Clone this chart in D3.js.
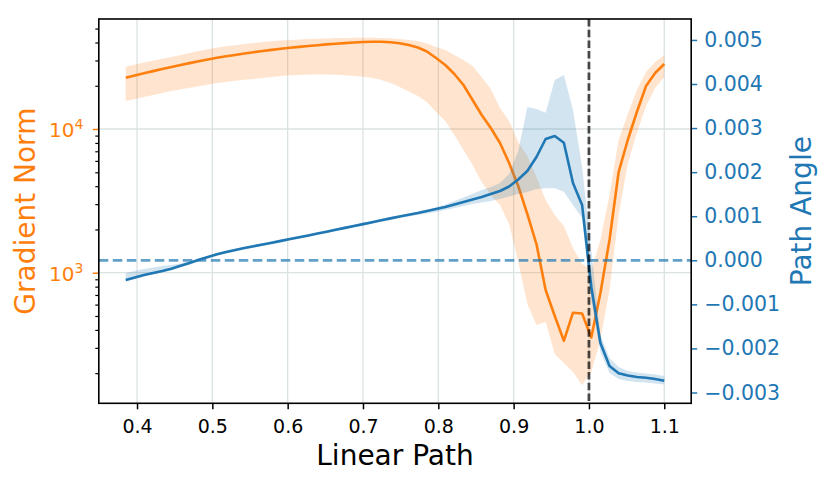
<!DOCTYPE html>
<html>
<head>
<meta charset="utf-8">
<script src="https://cdn.jsdelivr.net/npm/d3@7"></script>
<style>
  body { margin: 0; background: #fff; }
  svg text { font-family: "DejaVu Sans", sans-serif; }
</style>
</head>
<body>
<div id="chart"></div>
<script>
// position along the linear path (x)
var xPath = [
  0.385, 0.3971, 0.4092, 0.4214, 0.4335, 0.4456, 0.4577, 0.4698, 0.4819, 0.4941,
  0.5062, 0.5183, 0.5304, 0.5425, 0.5547, 0.5668, 0.5789, 0.5910, 0.6031, 0.6153,
  0.6274, 0.6395, 0.6516, 0.6637, 0.6758, 0.6880, 0.7001, 0.7122, 0.7243, 0.7364,
  0.7486, 0.7607, 0.7728, 0.7849, 0.7970, 0.8092, 0.8213, 0.8334, 0.8455, 0.8576,
  0.8697, 0.8819, 0.8940, 0.9061, 0.9182, 0.9303, 0.9425, 0.9546, 0.9667, 0.9788,
  0.9909, 1.0031, 1.0152, 1.0273, 1.0394, 1.0515, 1.0636, 1.0758, 1.0879, 1.1000
];

// gradient norm (left, log axis): mean and shaded band
var gradMean = [
  22750, 23600, 24450, 25280, 26150, 27010, 27890, 28750, 29590, 30450,
  31290, 32050, 32780, 33530, 34230, 34900, 35520, 36150, 36740, 37270,
  37810, 38300, 38790, 39230, 39610, 39990, 40310, 40510, 40440, 40120,
  39480, 38420, 36910, 34620, 31190, 27890, 24140, 20240, 15920, 12510,
  10160, 7990, 5800, 4012, 2562, 1584, 758, 500, 336, 527,
  520, 354, 722, 1689, 5020, 8384, 13130, 19920, 24530, 28340
];
var gradLow = [
  15660, 16170, 16700, 17250, 17810, 18390, 18870, 19360, 19860, 20370,
  20900, 21270, 21650, 22000, 22320, 22640, 23010, 23380, 23640, 23800,
  23910, 23950, 23950, 23840, 23640, 23380, 23080, 22640, 21930, 20900,
  19600, 18240, 16970, 15420, 13130, 11370, 9083, 7143, 5616, 4277,
  3473, 2959, 2183, 1187, 606, 433, 454, 272, 235, 204,
  165, 204, 340, 758, 2521, 5707, 9380, 14460, 19290, 23010
];
var gradHigh = [
  27130, 28070, 28980, 29880, 30800, 31700, 32730, 33800, 34840, 35860,
  36910, 37620, 38350, 39030, 39660, 40300, 40830, 41300, 41630, 41960,
  42300, 42500, 42710, 42920, 43050, 43120, 43190, 43120, 42980, 42780,
  42300, 41630, 40960, 39360, 37200, 35480, 32730, 30220, 27440, 23010,
  18980, 14000, 11370, 8120, 6486, 4634, 3206, 2521, 2113, 1485,
  1149, 1044, 1689, 3473, 8384, 12720, 18680, 24930, 29260, 32730
];

// path angle (right axis): mean and shaded band
var angleMean = [
  -0.000447, -0.000390, -0.000334, -0.000288, -0.000243, -0.000191, -0.000125, -0.000059, 0.000010, 0.000075,
  0.000135, 0.000186, 0.000234, 0.000277, 0.000318, 0.000359, 0.000399, 0.000440, 0.000481, 0.000522,
  0.000563, 0.000606, 0.000649, 0.000692, 0.000735, 0.000778, 0.000821, 0.000865, 0.000908, 0.000951,
  0.000994, 0.001032, 0.001073, 0.001119, 0.001164, 0.001209, 0.001266, 0.001323, 0.001380, 0.001436,
  0.001504, 0.001572, 0.001675, 0.001833, 0.002026, 0.002344, 0.002752, 0.002821, 0.002668, 0.001754,
  0.001255, -0.000606, -0.001877, -0.002398, -0.002564, -0.002614, -0.002648, -0.002664, -0.002693, -0.002732
];
var angleLow = [
  -0.000481, -0.000424, -0.000368, -0.000322, -0.000277, -0.000225, -0.000159, -0.000093, -0.000024, 0.000041,
  0.000101, 0.000152, 0.000200, 0.000243, 0.000284, 0.000325, 0.000365, 0.000406, 0.000447, 0.000488,
  0.000529, 0.000572, 0.000615, 0.000658, 0.000701, 0.000744, 0.000787, 0.000831, 0.000874, 0.000917,
  0.000960, 0.000994, 0.001028, 0.001062, 0.001096, 0.001141, 0.001187, 0.001232, 0.001278, 0.001312,
  0.001346, 0.001391, 0.001448, 0.001504, 0.001550, 0.001618, 0.001634, 0.001634, 0.001557, 0.001255,
  0.000960, -0.000901, -0.002081, -0.002557, -0.002694, -0.002739, -0.002762, -0.002773, -0.002796, -0.002818
];
var angleHigh = [
  -0.000288, -0.000243, -0.000197, -0.000163, -0.000129, -0.000107, -0.000073, -0.000027, 0.000032, 0.000098,
  0.000158, 0.000213, 0.000261, 0.000304, 0.000345, 0.000386, 0.000426, 0.000467, 0.000508, 0.000549,
  0.000590, 0.000633, 0.000676, 0.000719, 0.000762, 0.000805, 0.000848, 0.000892, 0.000935, 0.000978,
  0.001021, 0.001059, 0.001100, 0.001146, 0.001198, 0.001266, 0.001346, 0.001425, 0.001504, 0.001595,
  0.001663, 0.001754, 0.001958, 0.002480, 0.003478, 0.003433, 0.003349, 0.004091, 0.004204, 0.003410,
  0.002117, 0.000234, -0.001695, -0.002217, -0.002422, -0.002513, -0.002547, -0.002570, -0.002592, -0.002626
];

var xTicks = [0.4, 0.5, 0.6, 0.7, 0.8, 0.9, 1.0, 1.1];
var normTicks = [1000, 10000];
var normMinorTicks = [200, 300, 400, 500, 600, 700, 800, 900,
                      2000, 3000, 4000, 5000, 6000, 7000, 8000, 9000,
                      20000, 30000, 40000, 50000];
var angleTicks = [-0.003, -0.002, -0.001, 0, 0.001, 0.002, 0.003, 0.004, 0.005];
var minimumAt = 1.0;

var orange = "#ff7f0e";
var blue = "#1f77b4";

var width = 830, height = 484;
var margin = {top: 19, right: 138.8, bottom: 80.7, left: 98.8};
var plotW = width - margin.left - margin.right;
var plotH = height - margin.top - margin.bottom;

var x = d3.scaleLinear().domain([0.34925, 1.13575]).range([0, plotW]);
var yNorm = d3.scaleLog().domain([123.4, 58290]).range([plotH, 0]);
var yAngle = d3.scaleLinear().domain([-0.003245, 0.005475]).range([plotH, 0]);

var rows = xPath.map(function(v, i) {
  return {x: v, gm: gradMean[i], gl: gradLow[i], gh: gradHigh[i],
          am: angleMean[i], al: angleLow[i], ah: angleHigh[i]};
});

var svg = d3.select("#chart").append("svg")
  .attr("width", width)
  .attr("height", height);

var g = svg.append("g")
  .attr("transform", "translate(" + margin.left + "," + margin.top + ")");

// grid
g.selectAll(".vgrid").data(xTicks).enter().append("line")
  .attr("x1", d => x(d)).attr("x2", d => x(d))
  .attr("y1", 0).attr("y2", plotH)
  .attr("stroke", "#dbe2e2").attr("stroke-width", 1.3);

g.selectAll(".hgrid").data(normTicks).enter().append("line")
  .attr("x1", 0).attr("x2", plotW)
  .attr("y1", d => yNorm(d)).attr("y2", d => yNorm(d))
  .attr("stroke", "#dbe2e2").attr("stroke-width", 1.3);

// gradient norm
g.append("path")
  .datum(rows)
  .attr("d", d3.area().x(d => x(d.x)).y0(d => yNorm(d.gl)).y1(d => yNorm(d.gh)))
  .attr("fill", orange).attr("fill-opacity", 0.2);

g.append("path")
  .datum(rows)
  .attr("d", d3.line().x(d => x(d.x)).y(d => yNorm(d.gm)))
  .attr("fill", "none").attr("stroke", orange).attr("stroke-width", 2.6)
  .attr("stroke-linejoin", "round");

// path angle
g.append("path")
  .datum(rows)
  .attr("d", d3.area().x(d => x(d.x)).y0(d => yAngle(d.al)).y1(d => yAngle(d.ah)))
  .attr("fill", blue).attr("fill-opacity", 0.2);

g.append("path")
  .datum(rows)
  .attr("d", d3.line().x(d => x(d.x)).y(d => yAngle(d.am)))
  .attr("fill", "none").attr("stroke", blue).attr("stroke-width", 2.6)
  .attr("stroke-linejoin", "round");

g.append("line")
  .attr("x1", 0).attr("x2", plotW)
  .attr("y1", yAngle(0)).attr("y2", yAngle(0))
  .attr("stroke", blue).attr("stroke-opacity", 0.7)
  .attr("stroke-width", 2.7).attr("stroke-dasharray", "9.5,4.5");

g.append("line")
  .attr("x1", x(minimumAt)).attr("x2", x(minimumAt))
  .attr("y1", 0).attr("y2", plotH)
  .attr("stroke", "#000").attr("stroke-opacity", 0.7)
  .attr("stroke-width", 2.8).attr("stroke-dasharray", "7.5,3.2");

// x axis
var xAxis = g.append("g")
  .attr("transform", "translate(0," + plotH + ")")
  .call(d3.axisBottom(x).tickValues(xTicks).tickSize(6).tickPadding(10)
        .tickFormat(d3.format(".1f")));
xAxis.select(".domain").remove();
xAxis.selectAll("line").attr("stroke", "#000").attr("stroke-width", 1.5);
xAxis.selectAll("text").attr("font-size", "19px").attr("fill", "#000")
  .style("font-family", "DejaVu Sans");

// left axis (log)
var minorAxis = g.append("g")
  .call(d3.axisLeft(yNorm).tickValues(normMinorTicks).tickSize(3.5).tickFormat(""));
minorAxis.select(".domain").remove();
minorAxis.selectAll("line").attr("stroke", "#000").attr("stroke-width", 1.2);

var leftAxis = g.append("g")
  .call(d3.axisLeft(yNorm).tickValues(normTicks).tickSize(6).tickFormat(""));
leftAxis.select(".domain").remove();
leftAxis.selectAll("line").attr("stroke", orange).attr("stroke-width", 1.5);

var powLabels = g.selectAll(".powlabel").data(normTicks).enter().append("text")
  .attr("x", -15.5)
  .attr("y", d => yNorm(d) + 8.2)
  .attr("text-anchor", "end")
  .attr("fill", orange);
powLabels.append("tspan").attr("font-size", "20px").text("10");
powLabels.append("tspan").attr("font-size", "14px").attr("dy", -7.8)
  .text(d => Math.round(Math.log10(d)));

// right axis
var rightAxis = g.append("g")
  .attr("transform", "translate(" + plotW + ",0)")
  .call(d3.axisRight(yAngle).tickValues(angleTicks).tickSize(6).tickPadding(7)
        .tickFormat(d3.format(".3f")));
rightAxis.select(".domain").remove();
rightAxis.selectAll("line").attr("stroke", blue).attr("stroke-width", 1.5);
rightAxis.selectAll("text").attr("font-size", "20.5px").attr("fill", blue)
  .style("font-family", "DejaVu Sans");

// spines
g.append("rect")
  .attr("x", 0).attr("y", 0).attr("width", plotW).attr("height", plotH)
  .attr("fill", "none").attr("stroke", "#000").attr("stroke-width", 1.6);

// axis titles
g.append("text")
  .attr("x", plotW / 2).attr("y", plotH + 61.7)
  .attr("text-anchor", "middle").attr("font-size", "28px").attr("fill", "#000")
  .text("Linear Path");

g.append("text")
  .attr("transform", "translate(" + (35 - margin.left) + "," + (plotH / 2) + ") rotate(-90)")
  .attr("text-anchor", "middle").attr("font-size", "28px").attr("fill", orange)
  .text("Gradient Norm");

g.append("text")
  .attr("transform", "translate(" + (810.5 - margin.left) + "," + (plotH / 2) + ") rotate(-90)")
  .attr("text-anchor", "middle").attr("font-size", "28px").attr("fill", blue)
  .text("Path Angle");
</script>
</body>
</html>
